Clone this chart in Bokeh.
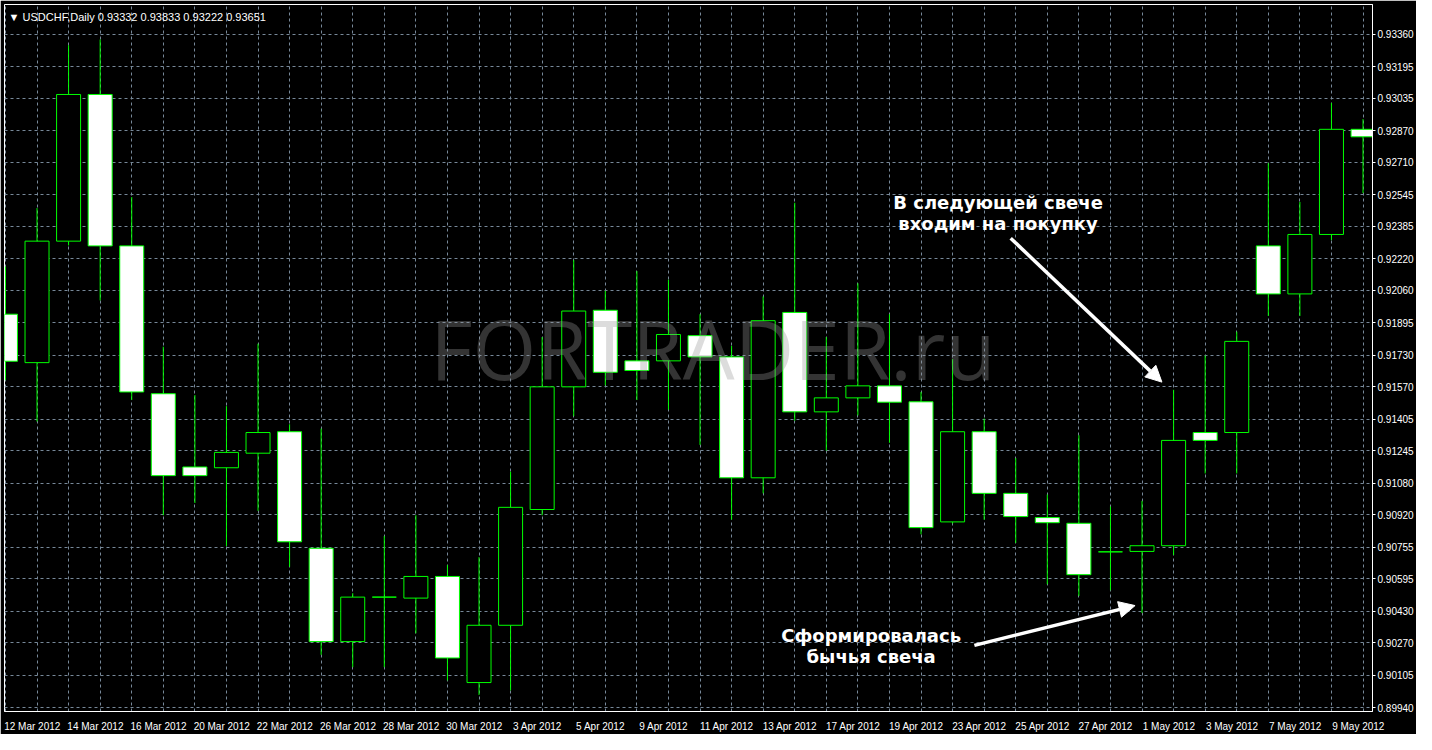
from bokeh.plotting import figure
from bokeh.models import (Range1d, FixedTicker, PrintfTickFormatter, Label,
                          Arrow, NormalHead, ColumnDataSource)
from bokeh.embed import file_html
from bokeh.resources import INLINE

# ---------------- data ----------------
dates = ["12 Mar 2012", "13 Mar 2012", "14 Mar 2012", "15 Mar 2012", "16 Mar 2012",
         "19 Mar 2012", "20 Mar 2012", "21 Mar 2012", "22 Mar 2012", "23 Mar 2012",
         "26 Mar 2012", "27 Mar 2012", "28 Mar 2012", "29 Mar 2012", "30 Mar 2012",
         "2 Apr 2012", "3 Apr 2012", "4 Apr 2012", "5 Apr 2012", "6 Apr 2012",
         "9 Apr 2012", "10 Apr 2012", "11 Apr 2012", "12 Apr 2012", "13 Apr 2012",
         "16 Apr 2012", "17 Apr 2012", "18 Apr 2012", "19 Apr 2012", "20 Apr 2012",
         "23 Apr 2012", "24 Apr 2012", "25 Apr 2012", "26 Apr 2012", "27 Apr 2012",
         "30 Apr 2012", "1 May 2012", "2 May 2012", "3 May 2012", "4 May 2012",
         "7 May 2012", "8 May 2012", "9 May 2012", "10 May 2012"]

opens = [0.91938, 0.91692, 0.92309, 0.93054, 0.92285, 0.91534, 0.91162, 0.91158, 0.91232, 0.91341,
         0.90749, 0.90275, 0.90501, 0.90496, 0.90606, 0.90067, 0.90358, 0.90946, 0.91569, 0.91958,
         0.91701, 0.91701, 0.91829, 0.91721, 0.91107, 0.91947, 0.91442, 0.91513, 0.91574, 0.91493,
         0.90883, 0.91341, 0.91028, 0.90905, 0.90876, 0.90731, 0.90733, 0.90762, 0.91337, 0.91337,
         0.92285, 0.92041, 0.92343, 0.92877]
highs = [0.92180, 0.92477, 0.93304, 0.93333, 0.92533, 0.91773, 0.91527, 0.91471, 0.91788, 0.91379,
         0.91357, 0.90521, 0.90811, 0.90917, 0.90664, 0.90704, 0.91138, 0.91822, 0.92213, 0.92057,
         0.92157, 0.92113, 0.91938, 0.91777, 0.92028, 0.92504, 0.91822, 0.92095, 0.91938, 0.91543,
         0.91710, 0.91408, 0.91207, 0.91022, 0.91323, 0.90961, 0.90990, 0.91554, 0.91728, 0.91849,
         0.92705, 0.92508, 0.93011, 0.92929]
lows = [0.91603, 0.91393, 0.92287, 0.92008, 0.91502, 0.90917, 0.90979, 0.90760, 0.90939, 0.90655,
        0.90208, 0.90145, 0.90145, 0.90317, 0.90078, 0.90004, 0.90027, 0.90917, 0.91420, 0.91576,
        0.91502, 0.91453, 0.91274, 0.90894, 0.91028, 0.91397, 0.91245, 0.91424, 0.91285, 0.90820,
        0.90875, 0.90894, 0.90776, 0.90566, 0.90507, 0.90536, 0.90420, 0.90715, 0.91129, 0.91129,
        0.91929, 0.91929, 0.92314, 0.92553]
closes = [0.91699, 0.92309, 0.93054, 0.92285, 0.91543, 0.91118, 0.91118, 0.91236, 0.91337, 0.90782,
          0.90275, 0.90501, 0.90501, 0.90606, 0.90192, 0.90358, 0.90957, 0.91569, 0.91954, 0.91643,
          0.91652, 0.91835, 0.91721, 0.91107, 0.91905, 0.91442, 0.91513, 0.91574, 0.91491, 0.90854,
          0.91341, 0.91028, 0.90910, 0.90879, 0.90615, 0.90731, 0.90762, 0.91297, 0.91297, 0.91800,
          0.92041, 0.92343, 0.92877, 0.92839]

price_ticks = [0.93360, 0.93195, 0.93035, 0.92870, 0.92710, 0.92545, 0.92385, 0.92220,
               0.92060, 0.91895, 0.91730, 0.91570, 0.91405, 0.91245, 0.91080, 0.90920,
               0.90755, 0.90595, 0.90430, 0.90270, 0.90105, 0.89940]

header = "\u25BC USDCHF,Daily  0.93332 0.93833 0.93222 0.93651"
watermark = "FORTRADER.ru"
note1 = ["В следующей свече", "входим на покупку"]
note2 = ["Сформировалась", "бычья свеча"]

# ---------------- build ----------------
idx = list(range(len(dates)))
src = ColumnDataSource(dict(
    x=idx, o=opens, h=highs, l=lows, c=closes,
    top=[max(a, b) for a, b in zip(opens, closes)],
    bot=[min(a, b) for a, b in zip(opens, closes)],
    fill=["black" if c > o else "white" for o, c in zip(opens, closes)],
))

LIME = "#00FF00"

p = figure(width=1416, height=734, output_backend="svg", toolbar_location=None,
           x_range=Range1d(-0.03, 43.3), y_range=Range1d(0.89920, 0.93511),
           y_axis_location="right",
           background_fill_color="black", border_fill_color="black",
           outline_line_color="white",
           min_border_left=4, min_border_top=4, min_border_right=0, min_border_bottom=0)

# grid
p.xgrid.ticker = FixedTicker(ticks=idx)
for g in (p.xgrid, p.ygrid):
    g.grid_line_color = "#778899"
    g.grid_line_dash = "3 3"
    g.grid_line_width = 1

# y axis
p.yaxis.ticker = FixedTicker(ticks=price_ticks)
p.yaxis.formatter = PrintfTickFormatter(format="%.5f")
p.yaxis.major_label_text_color = "white"
p.yaxis.major_label_text_font = "Liberation Sans"
p.yaxis.major_label_text_font_size = "10px"
p.yaxis.axis_line_color = "white"
p.yaxis.major_tick_line_color = "white"
p.yaxis.major_tick_out = 3
p.yaxis.major_tick_in = 0
p.yaxis.minor_tick_line_color = None
p.yaxis.major_label_standoff = 2

# x axis: labels every second bar, shifted so they start at the bar
shift = 0.85
xticks = [k + shift for k in range(0, len(dates), 2)]
p.xaxis.ticker = FixedTicker(ticks=xticks)
p.xaxis.major_label_overrides = {k + shift: dates[k] for k in range(0, len(dates), 2)}
p.xaxis.major_label_text_color = "white"
p.xaxis.major_label_text_font = "Liberation Sans"
p.xaxis.major_label_text_font_size = "10px"
p.xaxis.axis_line_color = "white"
p.xaxis.major_tick_line_color = None
p.xaxis.minor_tick_line_color = None
p.xaxis.major_label_standoff = 3

# candles
p.segment(x0="x", y0="h", x1="x", y1="l", source=src, line_color=LIME, line_width=1)
p.vbar(x="x", width=0.76, top="top", bottom="bot", source=src,
       fill_color="fill", line_color=LIME, line_width=1)

# watermark (drawn over candles, translucent)
p.add_layout(Label(x=22.41, y=0.91766, text=watermark, text_align="center",
                   text_baseline="alphabetic", text_font="Open Sans",
                   text_font_size="82px", text_color="#979797", text_alpha=0.34))

# header
p.add_layout(Label(x=0.1, y=0.93445, text=header, text_align="left",
                   text_baseline="alphabetic", text_font="Liberation Sans",
                   text_font_size="11px", text_color="white"))

# annotations
for txt, yy in zip(note1, [0.92506, 0.92398]):
    p.add_layout(Label(x=31.44, y=yy, text=txt, text_align="center",
                       text_baseline="alphabetic", text_font="DejaVu Sans",
                       text_font_style="bold", text_font_size="18px", text_color="white"))
for txt, yy in zip(note2, [0.90305, 0.90197]):
    p.add_layout(Label(x=27.42, y=yy, text=txt, text_align="center",
                       text_baseline="alphabetic", text_font="DejaVu Sans",
                       text_font_style="bold", text_font_size="18px", text_color="white"))

p.add_layout(Arrow(end=NormalHead(size=16, fill_color="white", line_color="white"),
                   x_start=31.84, y_start=0.92324, x_end=36.63, y_end=0.91593,
                   line_color="white", line_width=3.5))
p.add_layout(Arrow(end=NormalHead(size=16, fill_color="white", line_color="white"),
                   x_start=30.69, y_start=0.90256, x_end=35.78, y_end=0.90458,
                   line_color="white", line_width=3.5))

open("out.html", "w").write(file_html(p, INLINE))
